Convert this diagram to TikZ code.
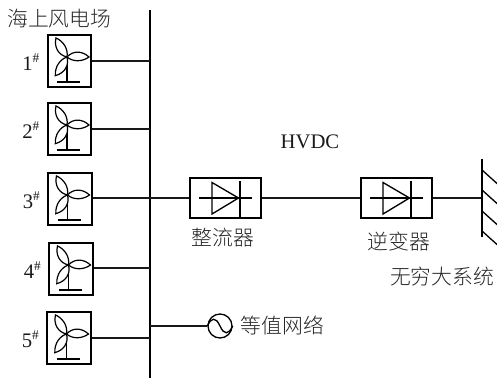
\documentclass[tikz,border=0pt]{standalone}
\usepackage{fontspec}
\setmainfont{Liberation Serif}
\newfontfamily\cjk{Noto Sans CJK SC Light}
\usetikzlibrary{calc}
\tikzset{
 x=0.75pt,y=-0.75pt,
 wire/.style={line width=1.3pt,black!90},
 boxn/.style={draw,line width=1.3pt,inner sep=0pt,minimum width=32.5pt,minimum height=39pt},
 convn/.style={draw,line width=1.3pt,inner sep=0pt,minimum width=53pt,minimum height=30.5pt},
 thin part/.style={line width=1pt},
 cjklabel/.style={inner sep=0pt,font=\cjk\fontsize{15.6}{16}\selectfont,text=black!85},
 numlabel/.style={inner sep=0pt,font=\fontsize{15.5}{16}\selectfont,text=black!90},
 blade/.style={line width=0.9pt,fill=white},
}
\newcommand{\myblade}[1]{\draw[blade,rotate=#1] (0,0) .. controls (6,-6.5) and (15,-6.5) .. (22,0) .. controls (15,5) and (6,5) .. (0,0);}
\begin{document}
\begin{tikzpicture}
\useasboundingbox (0,0) rectangle (497,378);
\coordinate (bt) at (150,10);
\coordinate (bb) at (150,378);
\draw[line width=1.5pt] (bt) -- (bb);
\foreach \i/\xx/\yy/\ly in {1/69.5/61/61,2/69.5/129/129,3/70/199/198,4/71/269/268,5/69/338/338}{
  \node[boxn] (t\i) at (\xx,\yy) {};
  \coordinate (b\i) at (150,\ly);
  \draw[wire] (t\i.east |- b\i) -- (b\i);
  \begin{scope}[shift={($(t\i.center)+(-2.5,-4)$)}]
    \draw[thin part] (0,0) -- (0,25);
    \draw[thin part] (-10,25) -- (13,25);
    \myblade{0}\myblade{120}\myblade{238}
  \end{scope}
  \node[numlabel,anchor=east] at ($(t\i.west)+(-14,1)$) {\i\rlap{\raisebox{6pt}{\fontsize{10}{10}\selectfont\#}}};
}
\node[convn] (r) at (225.5,198) {};
\node[convn] (v) at (396.5,198) {};
\coordinate (g) at (482,198);
\draw[wire] (bb |- r) -- (r);
\draw[wire] (r) -- (v);
\draw[wire] (v) -- (g);
\foreach \n in {r,v}{
 \begin{scope}[shift={(\n.center)}]
  \draw[thin part] (-26.5,0) -- (26.5,0);
  \draw[thin part,line join=miter] (-13.5,-15.5) -- (13,0) -- (-13.5,16) -- cycle;
  \draw[thin part] (14.5,-17) -- (14.5,19);
 \end{scope}
}
\coordinate (gt) at (482,159);
\coordinate (gb) at (482,237);
\draw[line width=1.3pt] (gt) -- (gb);
\begin{scope}
\clip (482,150) rectangle (497,260);
\foreach \y in {170,190,211,231}{
  \draw[thin part] (482,\y) -- (502,\y+18);
}
\end{scope}
\node[draw,circle,line width=1pt,minimum size=18pt,inner sep=0pt] (ac) at (220,326) {};
\coordinate (b6) at (150,326);
\draw[wire] (b6) -- (ac);
\draw[thin part] (ac.west) .. controls +(4,-9) and +(-4,-9) .. (ac.center) .. controls +(4,9) and +(-4,9) .. (ac.east);
\node[cjklabel,anchor=west] at (7,19) {海上风电场};
\node[cjklabel] at (223,238) {整流器};
\node[cjklabel] at (399,242) {逆变器};
\node[cjklabel] at (442,277) {无穷大系统};
\node[cjklabel] at (282.5,325) {等值网络};
\node[numlabel] at (310,142) {HVDC};
\end{tikzpicture}
\end{document}
